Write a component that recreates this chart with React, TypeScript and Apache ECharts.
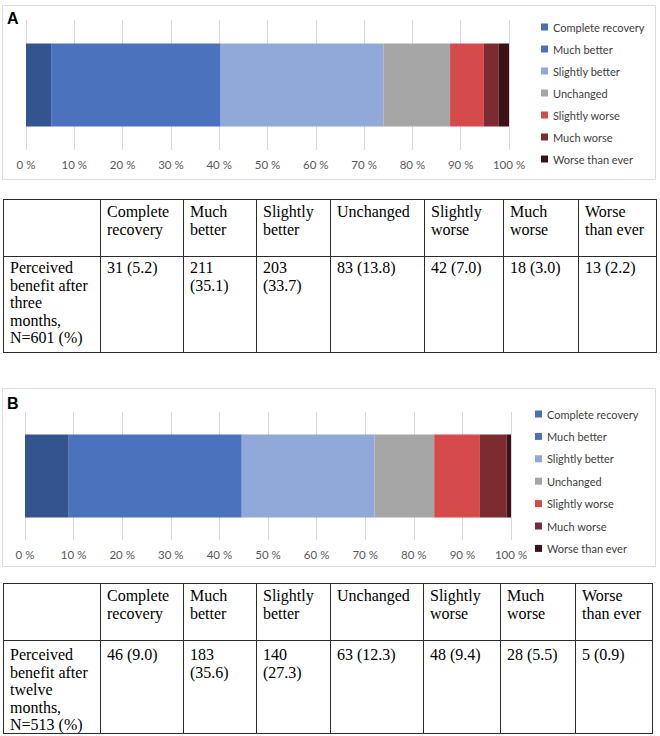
import React, { useEffect, useRef } from "react";
import * as echarts from "echarts";

const categories = [
  "Complete recovery",
  "Much better",
  "Slightly better",
  "Unchanged",
  "Slightly worse",
  "Much worse",
  "Worse than ever",
];
const countsA = [31, 211, 203, 83, 42, 18, 13];
const pctA = [5.2, 35.1, 33.7, 13.8, 7.0, 3.0, 2.2];
const countsB = [46, 183, 140, 63, 48, 28, 5];
const pctB = [9.0, 35.6, 27.3, 12.3, 9.4, 5.5, 0.9];
const rowLabelA = "Perceived benefit after three months, N=601 (%)";
const rowLabelB = "Perceived benefit after twelve months, N=513 (%)";
const panelLabels = ["A", "B"];

const barColors = ["#34548f", "#4a72bd", "#90a9d8", "#a6a6a6", "#d54a4a", "#7c2b30", "#3d1215"];
const legendColors = ["#4a70bb", "#4a72bd", "#90a9d8", "#a6a6a6", "#d54a4a", "#7c2b30", "#3d1215"];

const SERIF = '"Liberation Serif", "Times New Roman", serif';
const SANS = 'Lato, "Open Sans", sans-serif';

function buildTable(
  cols: number[],
  top: number,
  mid: number,
  bottom: number,
  headPad: number,
  dataPad: number,
  rowLabel: string,
  counts: number[],
  pcts: number[]
) {
  const els: any[] = [];
  const lineStyle = { stroke: "#2b2b2b", lineWidth: 1 };
  const left = cols[0];
  const right = cols[cols.length - 1];
  [top, mid, bottom].forEach((y) => {
    els.push({
      type: "line",
      shape: { x1: left, y1: y + 0.5, x2: right + 1, y2: y + 0.5 },
      style: lineStyle,
      silent: true,
    });
  });
  cols.forEach((x) => {
    els.push({
      type: "line",
      shape: { x1: x + 0.5, y1: top, x2: x + 0.5, y2: bottom + 1 },
      style: lineStyle,
      silent: true,
    });
  });
  const pad = 7;
  const textStyle = (text: string, x: number, y: number, w: number) => ({
    type: "text",
    x,
    y,
    silent: true,
    style: {
      text,
      width: w,
      overflow: "break",
      fontFamily: SERIF,
      fontSize: 16,
      lineHeight: 17.5,
      fill: "#000",
      verticalAlign: "top",
      align: "left",
    },
  });
  // row label
  els.push(textStyle(rowLabel, cols[0] + pad, mid + dataPad, cols[1] - cols[0] - 2 * pad));
  categories.forEach((c, i) => {
    const x0 = cols[i + 1];
    const w = cols[i + 2] - x0 - 2 * pad;
    els.push(textStyle(c, x0 + pad, top + headPad, w));
    els.push(
      textStyle(`${counts[i]} (${pcts[i].toFixed(1)})`, x0 + pad, mid + dataPad, w)
    );
  });
  return els;
}

export default function App() {
  const ref = useRef<HTMLDivElement>(null);
  useEffect(() => {
    if (!ref.current) return;
    const chart = echarts.init(ref.current, undefined, { renderer: "svg" });

    const grids = [
      { left: 26, top: 20, width: 483, height: 130 },
      { left: 25, top: 412, width: 486, height: 128 },
    ];
    const xAxes = grids.map((_, gi) => ({
      type: "value",
      gridIndex: gi,
      min: 0,
      max: 100,
      interval: 10,
      axisLine: { show: false },
      axisTick: { show: false },
      splitLine: { show: true, lineStyle: { color: "#d9d9d9", width: 1 } },
      axisLabel: {
        formatter: "{value} %",
        color: "#595959",
        fontFamily: SANS,
        fontSize: 11.5,
        margin: 8,
      },
    }));
    const yAxes = grids.map((_, gi) => ({
      type: "category",
      gridIndex: gi,
      data: [panelLabels[gi]],
      show: false,
    }));
    const series: any[] = [];
    [pctA, pctB].forEach((vals, gi) => {
      categories.forEach((c, i) => {
        series.push({
          type: "bar",
          name: c,
          xAxisIndex: gi,
          yAxisIndex: gi,
          stack: "s" + gi,
          barWidth: 83,
          data: [vals[i]],
          itemStyle: { color: barColors[i] },
          emphasis: { disabled: true },
        });
      });
    });
    const legendBase = {
      orient: "vertical",
      icon: "rect",
      itemWidth: 7,
      itemHeight: 7,
      padding: 0,
      selectedMode: false,
      textStyle: { color: "#404040", fontFamily: SANS, fontSize: 11, lineHeight: 14 },
      data: categories.map((c, i) => ({ name: c, itemStyle: { color: legendColors[i] } })),
    };

    const graphics: any[] = [
      {
        type: "rect",
        shape: { x: 2.5, y: 5.5, width: 653, height: 174 },
        style: { fill: "none", stroke: "#dcdcdc", lineWidth: 1 },
        silent: true,
      },
      {
        type: "rect",
        shape: { x: 2.5, y: 388.5, width: 653, height: 178 },
        style: { fill: "none", stroke: "#dcdcdc", lineWidth: 1 },
        silent: true,
      },
      {
        type: "text",
        x: 7,
        y: 10,
        silent: true,
        style: {
          text: panelLabels[0],
          fontFamily: '"Liberation Sans", Arial, sans-serif',
          fontWeight: "bold",
          fontSize: 16,
          fill: "#000",
          verticalAlign: "top",
        },
      },
      {
        type: "text",
        x: 7,
        y: 395,
        silent: true,
        style: {
          text: panelLabels[1],
          fontFamily: '"Liberation Sans", Arial, sans-serif',
          fontWeight: "bold",
          fontSize: 16,
          fill: "#000",
          verticalAlign: "top",
        },
      },
      ...buildTable(
        [3, 100, 183, 256, 330, 424, 503, 578, 656],
        199,
        256,
        352,
        4,
        3,
        rowLabelA,
        countsA,
        pctA
      ),
      ...buildTable(
        [3, 100, 183, 256, 330, 423, 500, 575, 652],
        583,
        640,
        733,
        4,
        6,
        rowLabelB,
        countsB,
        pctB
      ),
    ];

    chart.setOption({
      animation: false,
      backgroundColor: "#ffffff",
      grid: grids,
      xAxis: xAxes,
      yAxis: yAxes,
      series,
      legend: [
        { ...legendBase, left: 541, top: 20, itemGap: 8 },
        { ...legendBase, left: 535, top: 407, itemGap: 8.4 },
      ],
      graphic: graphics,
    });
    return () => chart.dispose();
  }, []);
  return (
    <div
      ref={ref}
      style={{ position: "absolute", left: 0, top: 0, width: 660, height: 736 }}
    />
  );
}
